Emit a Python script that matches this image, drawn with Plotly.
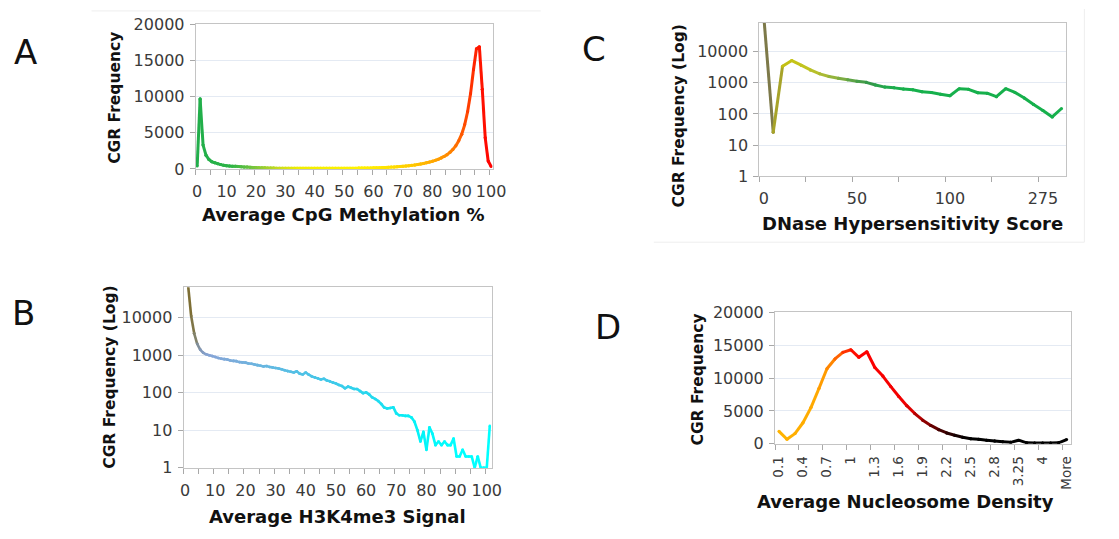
import plotly.graph_objects as go

W, H = 1119, 539

# ---------------- A: average CpG methylation (categories 0..100 %) ----------------
meth_pct = list(range(101))
meth_freq = [
    400, 9700, 3300, 1900, 1300, 1000, 850, 730, 600, 510,
    450, 420, 390, 360, 335, 310, 285, 260, 235, 215,
    190, 178, 165, 150, 138, 128, 120, 113, 108, 104,
    100, 98, 97, 96, 95, 95, 94, 94, 93, 93,
    93, 93, 93, 94, 94, 95, 95, 96, 97, 98,
    99, 101, 104, 107, 111, 116, 122, 129, 137, 146,
    156, 168, 181, 196, 213, 232, 253, 277, 303, 333,
    366, 404, 447, 495, 550, 612, 682, 760, 848, 946,
    1060, 1190, 1340, 1520, 1730, 1980, 2300, 2700, 3200, 3900,
    4800, 6100, 7900, 10400, 13700, 16600, 16900, 11000, 4300, 1100,
    350,
]
meth_tick_vals = list(range(0, 101, 10))
meth_tick_text = [str(v) for v in meth_tick_vals]

# ---------------- B: average H3K4me3 signal (categories 0..101) ----------------
h3_signal = list(range(102))
h3_freq = [
    70000, 70000, 11000, 3800, 2000, 1400, 1150, 1050, 990, 940,
    890, 840, 800, 780, 760, 720, 700, 690, 650, 640,
    630, 600, 590, 560, 540, 520, 500, 510, 480, 470,
    455, 440, 420, 395, 375, 360, 345, 370, 320, 305,
    345, 300, 270, 255, 240, 225, 235, 210, 200, 185,
    175, 160, 150, 130, 145, 135, 125, 125, 110, 97,
    102, 90, 75, 68, 60, 50, 40, 38, 39, 41,
    28, 25, 25, 24, 24, 22, 17, 10, 5, 9,
    3, 12, 8, 4, 5, 4, 5, 4, 4, 6,
    2, 2, 3, 2, 2, 2, 1, 2, 1, 1,
    1, 13,
]
h3_tick_vals = list(range(0, 101, 10))
h3_tick_text = [str(v) for v in h3_tick_vals]

# ---------------- C: DNase hypersensitivity score (33 bins) ----------------
dnase_bin = list(range(33))
dnase_freq = [
    120000, 26, 3400, 5200, 3700, 2600, 1950, 1600, 1400, 1250,
    1120, 1040, 850, 730, 690, 630, 600, 520, 490, 430,
    385, 650, 620, 480, 465, 360, 650, 490, 325, 200,
    130, 80, 150,
]
dnase_tick_vals = [0, 10, 20, 30]
dnase_tick_text = ["0", "50", "100", "275"]

# ---------------- D: average nucleosome density (37 bins) ----------------
nuc_bins = [
    "0.1", "0.2", "0.3", "0.4", "0.5", "0.6", "0.7", "0.8", "0.9", "1",
    "1.1", "1.2", "1.3", "1.4", "1.5", "1.6", "1.7", "1.8", "1.9", "2",
    "2.1", "2.2", "2.3", "2.4", "2.5", "2.6", "2.7", "2.8", "2.9", "3",
    "3.25", "3.5", "3.75", "4", "4.5", "5", "More",
]
nuc_freq = [
    1900, 700, 1550, 3200, 5500, 8400, 11400, 12900, 13900, 14300,
    13150, 14000, 11600, 10300, 8700, 7200, 5800, 4600, 3600, 2800,
    2150, 1650, 1300, 1000, 780, 700, 550, 430, 320, 220,
    550, 150, 120, 120, 120, 150, 650,
]

# ---------------- colour ramps along each x axis ----------------
ramp_a = [(0, "#21AE4B"), (12, "#2DB446"), (20, "#7CC63C"), (28, "#C8DC1E"),
          (35, "#F0EE00"), (55, "#FFF200"), (65, "#FFE300"), (75, "#FFC400"),
          (82, "#FFA000"), (87, "#FF7F00"), (91, "#FF5000"), (95, "#FF1E00"),
          (100, "#FF0000")]
ramp_b = [(0, "#7B6A2E"), (2, "#7E6F36"), (3.5, "#82826A"), (5, "#8096B4"),
          (8, "#86A4D6"), (18, "#78AEDC"), (30, "#60BAE2"), (50, "#3ECAEA"),
          (65, "#1EDDF0"), (75, "#06F0F6"), (90, "#00FFFF"), (101, "#00FFFF")]
ramp_c = [(0, "#6E6A52"), (1, "#8C8840"), (2, "#C2BE12"), (4, "#C6C61A"),
          (6, "#B4BE30"), (8, "#8AB040"), (10, "#50A048"), (11.5, "#34984A"),
          (13, "#22A84D"), (15, "#16B04C"), (32, "#16B04C")]
ramp_d = [(0, "#FFB400"), (5, "#FFA800"), (7, "#FF7A00"), (8, "#FF4A00"),
          (9, "#FF1A00"), (10, "#FF0000"), (16, "#F00000"), (18, "#A00000"),
          (20, "#500000"), (22, "#1A0000"), (24, "#000000"), (36, "#000000")]


def hex_rgb(h):
    h = h.lstrip("#")
    return tuple(int(h[i:i + 2], 16) for i in (0, 2, 4))


def color_at(stops, x):
    if x <= stops[0][0]:
        return stops[0][1]
    for (x0, c0), (x1, c1) in zip(stops, stops[1:]):
        if x0 <= x <= x1:
            t = (x - x0) / (x1 - x0) if x1 > x0 else 0
            a, b = hex_rgb(c0), hex_rgb(c1)
            r = [round(a[i] + (b[i] - a[i]) * t) for i in range(3)]
            return "rgb({},{},{})".format(*r)
    return stops[-1][1]


fig = go.Figure()


def gradient_line(xs, ys, stops, xa, ya, width=3):
    for i in range(len(xs) - 1):
        col = color_at(stops, (xs[i] + xs[i + 1]) / 2)
        fig.add_trace(go.Scatter(
            x=[xs[i], xs[i + 1]], y=[ys[i], ys[i + 1]],
            mode="lines+markers",
            line=dict(color=col, width=width),
            marker=dict(color=col, size=width),
            xaxis=xa, yaxis=ya, showlegend=False, hoverinfo="skip",
        ))


gradient_line(meth_pct, meth_freq, ramp_a, "x", "y")
gradient_line(h3_signal, h3_freq, ramp_b, "x2", "y2", width=2.6)
gradient_line(dnase_bin, dnase_freq, ramp_c, "x3", "y3")
nuc_idx = list(range(len(nuc_bins)))
gradient_line(nuc_idx, nuc_freq, ramp_d, "x4", "y4")


def px(x):
    return x / W


def py(y):
    return 1 - y / H


FONT = "DejaVu Sans"
TICK_FONT = dict(family=FONT, size=16, color="#3A3A3A")
AXIS_LINE = "#C4C4C4"
GRID = "#E4EAF3"
TICK_COL = "#A8A8A8"


def x_axis(left, right, rng, tickvals, ticktext, minor_vals, anchor,
           standoff=8, font=TICK_FONT, angle=0):
    return dict(
        domain=[px(left), px(right)], range=rng, anchor=anchor,
        tickmode="array", tickvals=tickvals, ticktext=ticktext,
        ticks="", tickfont=font, tickangle=angle, ticklabelstandoff=standoff,
        showgrid=False, zeroline=False,
        showline=True, linecolor=AXIS_LINE, linewidth=1, mirror=True,
        minor=dict(tickmode="array", tickvals=minor_vals, ticks="outside",
                   ticklen=5, tickcolor=TICK_COL, tickwidth=1, showgrid=False),
        fixedrange=True,
    )


def y_axis(top, bottom, anchor, log=False, rng=None, tickvals=None, ticktext=None):
    d = dict(
        domain=[py(bottom), py(top)], anchor=anchor,
        tickmode="array", tickvals=tickvals, ticktext=ticktext,
        ticks="outside", ticklen=5, tickcolor=TICK_COL, tickfont=TICK_FONT,
        ticklabelstandoff=2,
        showgrid=True, gridcolor=GRID, gridwidth=1, zeroline=False,
        showline=True, linecolor=AXIS_LINE, linewidth=1, mirror=True,
        fixedrange=True, range=rng,
    )
    if log:
        d["type"] = "log"
    return d


lin_vals = [0, 5000, 10000, 15000, 20000]
lin_text = [str(v) for v in lin_vals]
log_vals = [1, 10, 100, 1000, 10000]
log_text = [str(v) for v in log_vals]

fig.update_layout(
    width=W, height=H,
    margin=dict(l=0, r=0, t=0, b=0),
    paper_bgcolor="white", plot_bgcolor="white",
    showlegend=False,
    xaxis=x_axis(194, 496, [-0.5, 100.5], meth_tick_vals, meth_tick_text,
                 [-0.5 + 5 * j for j in range(21)], "y"),
    yaxis=y_axis(15.8, 165.8, "x", rng=[0, 20000], tickvals=lin_vals, ticktext=lin_text),
    xaxis2=x_axis(181.7, 495, [-0.5, 101.6], h3_tick_vals, h3_tick_text,
                  [-0.5 + 5 * j for j in range(21)], "y2"),
    yaxis2=y_axis(288.3, 475.5, "x2", log=True, rng=[0, 4.81],
                  tickvals=log_vals, ticktext=log_text),
    xaxis3=x_axis(767.3, 1079.5, [-0.5, 32.5], dnase_tick_vals, dnase_tick_text,
                  [-0.5 + 5 * j for j in range(7)], "y3"),
    yaxis3=y_axis(14.3, 173.3, "x3", log=True, rng=[0, 4.93],
                  tickvals=log_vals, ticktext=log_text),
    xaxis4=x_axis(783.3, 1084, [-0.5, 36.5], nuc_idx[::3], nuc_bins[::3],
                  [-0.5 + 3 * j for j in range(13)], "y4", standoff=6,
                  font=dict(family=FONT, size=13.5, color="#3A3A3A"), angle=-90),
    yaxis4=y_axis(314.3, 450.7, "x4", rng=[0, 20000], tickvals=lin_vals, ticktext=lin_text),
)

TITLE_FONT = dict(family=FONT, size=18, color="#111111")
YTITLE_FONT = dict(family=FONT, size=15.5, color="#111111")
LETTER_FONT = dict(family=FONT, size=34, color="#111111")


def note(text, x, y, font, angle=0):
    fig.add_annotation(text=text, x=px(x), y=py(y), xref="paper", yref="paper",
                       showarrow=False, xanchor="center", yanchor="middle",
                       textangle=angle, font=font)


# axis titles
note("<b>Average CpG Methylation %</b>", 344, 213, TITLE_FONT)
note("<b>Average H3K4me3 Signal</b>", 338, 526, TITLE_FONT)
note("<b>DNase Hypersensitivity Score</b>", 923, 222, TITLE_FONT)
note("<b>Average Nucleosome Density</b>", 916.5, 510, TITLE_FONT)
note("<b>CGR Frequency</b>", 112, 92, YTITLE_FONT, -90)
note("<b>CGR Frequency (Log)</b>", 106, 382, YTITLE_FONT, -90)
note("<b>CGR Frequency (Log)</b>", 686, 111, YTITLE_FONT, -90)
note("<b>CGR Frequency</b>", 705, 384, YTITLE_FONT, -90)

# panel letters
note("A", 21, 45, LETTER_FONT)
note("B", 19, 315, LETTER_FONT)
note("C", 599, 41, LETTER_FONT)
note("D", 613, 330, LETTER_FONT)

# faint chart-area borders
frame = dict(color="#EEEEEE", width=1)
fig.add_shape(type="line", xref="paper", yref="paper",
              x0=px(660), x1=px(1098), y0=py(241.7), y1=py(241.7), line=frame)
fig.add_shape(type="line", xref="paper", yref="paper",
              x0=px(1098), x1=px(1098), y0=py(0), y1=py(241.7), line=frame)
fig.add_shape(type="line", xref="paper", yref="paper",
              x0=px(88), x1=px(545), y0=py(2), y1=py(2), line=frame)

fig.write_html("out.html")
